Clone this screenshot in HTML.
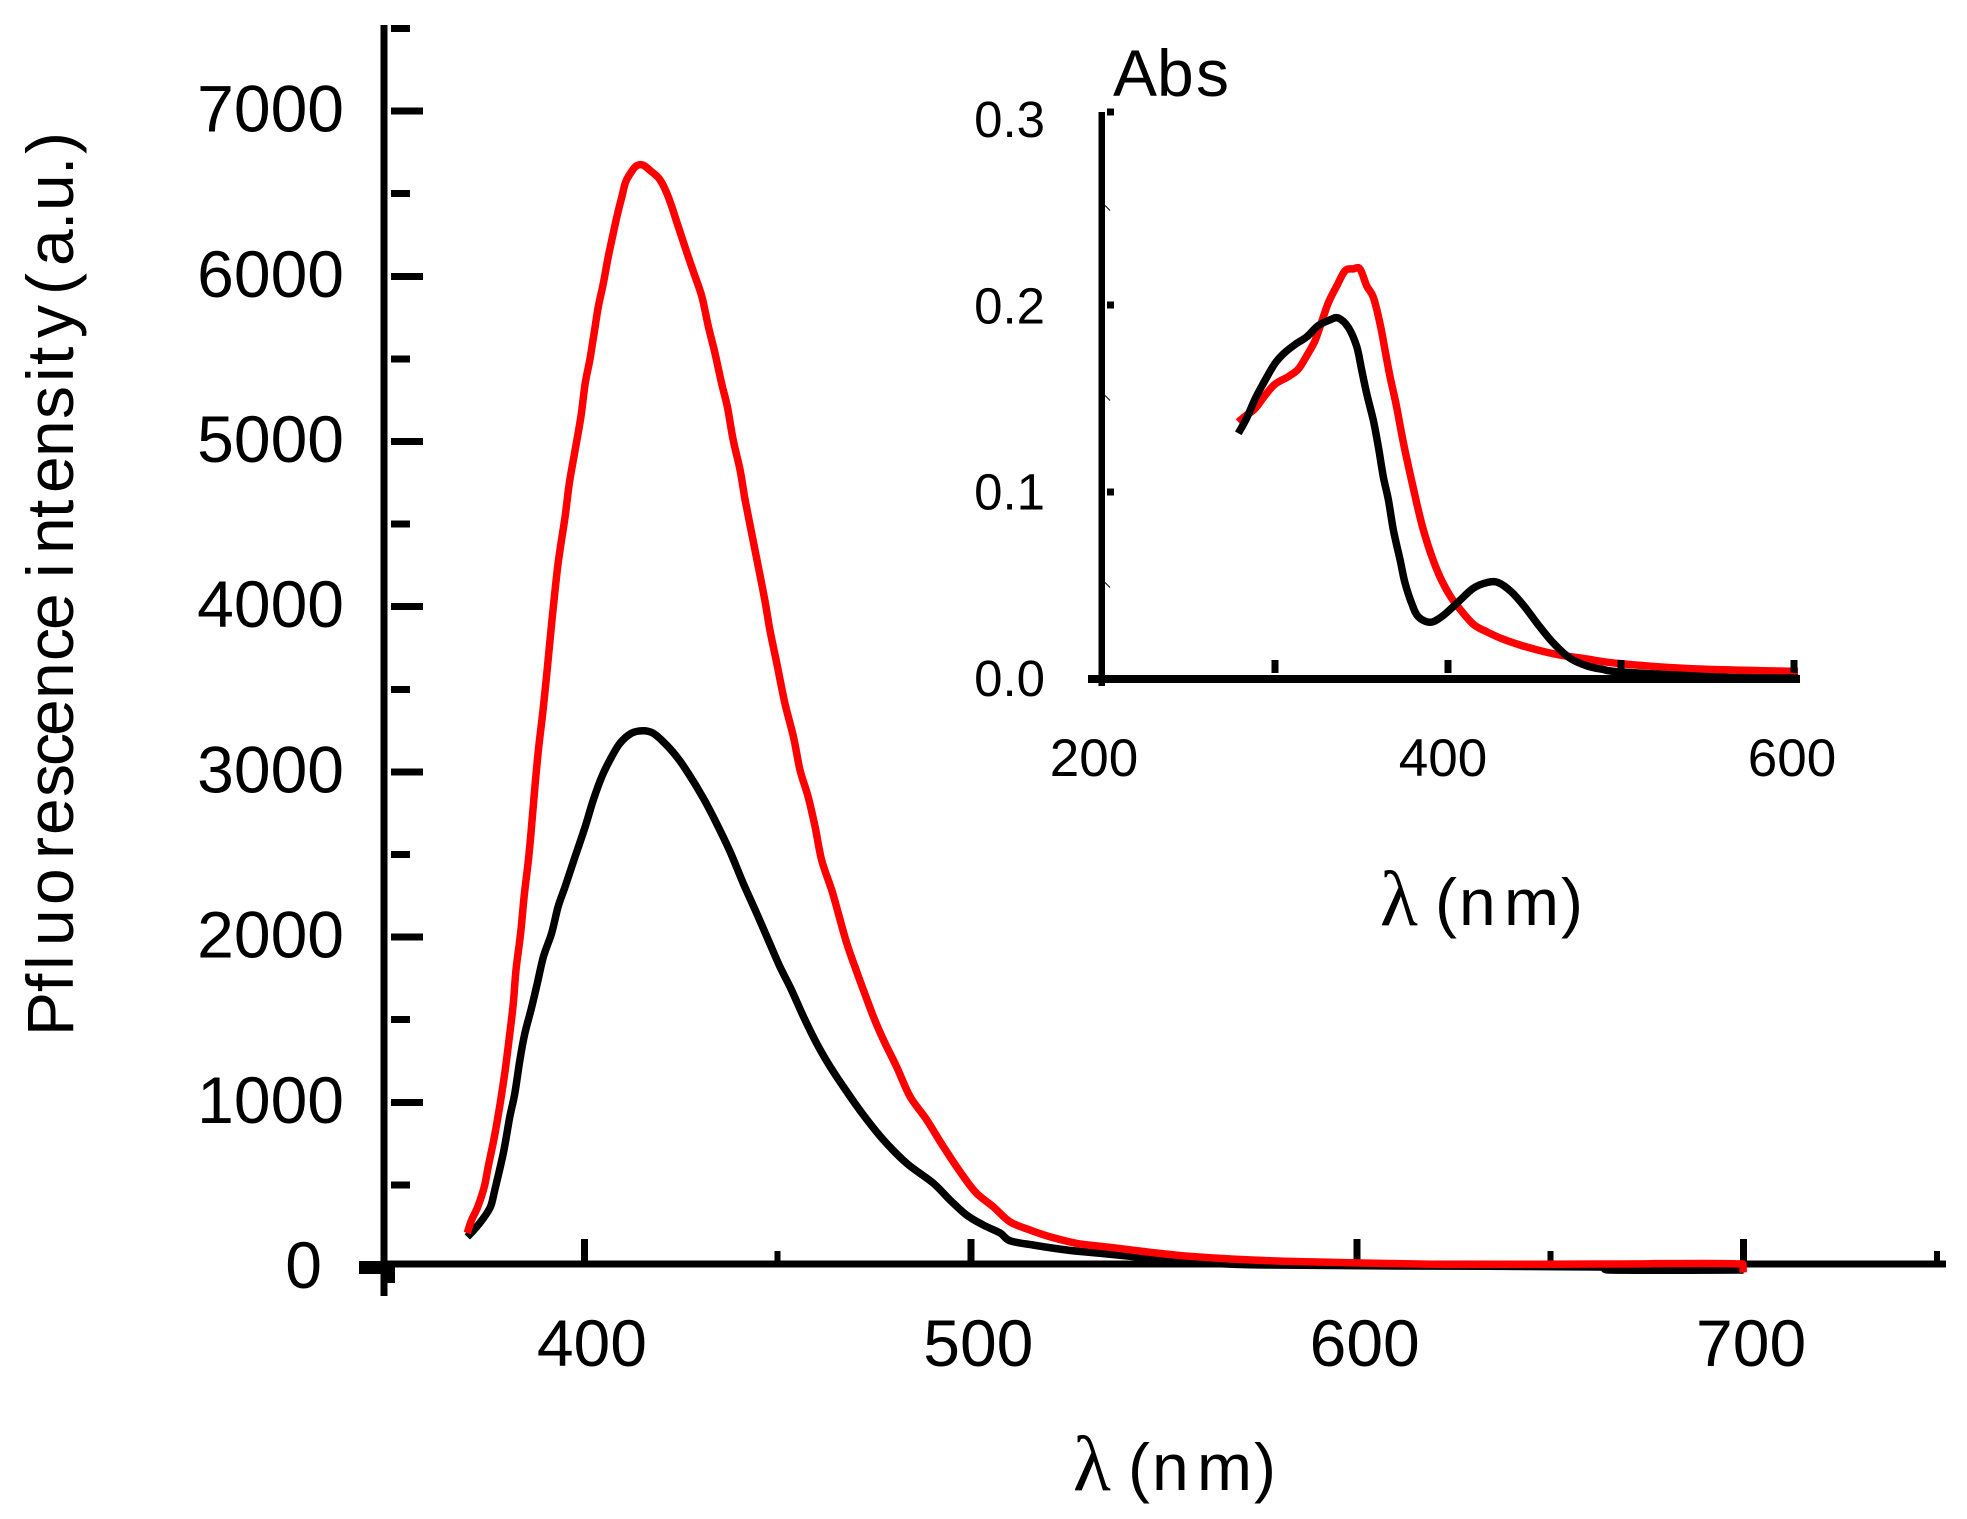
<!DOCTYPE html>
<html lang="en">
<head>
<meta charset="utf-8">
<title>Fluorescence and absorbance spectra</title>
<style>
html,body{margin:0;padding:0;background:#fff;}
svg{display:block;}
text{font-family:"Liberation Sans",sans-serif;fill:#000;font-variant-ligatures:none;}
.serif{font-family:"Liberation Serif",serif;font-size:78px;}
</style>
</head>
<body>
<svg id="chart" xmlns="http://www.w3.org/2000/svg" width="1967" height="1519" viewBox="0 0 1967 1519">
  <rect x="0" y="0" width="1967" height="1519" fill="#fff"/>
  <text transform="translate(73,1032) rotate(-90)" font-size="66" x="-4 40 62 86 127 173 197 235 266 296 333 371 402 440 454 478 514 539 575 613 650 667 694 725 737 766 802 821 857 878" y="0">Pfluorescence intensity (a.u.)</text>
  <text font-size="66" y="1490" x="1073 1100 1128 1152 1197 1254"><tspan class="serif">λ</tspan> (nm)</text>
  <text font-size="66" y="96" x="1113 1157 1196">Abs</text>
  <text font-size="66" y="925" x="1380 1410 1435 1459 1504 1561"><tspan class="serif">λ</tspan> (nm)</text>
  <g id="main-plot"></g>
  <g id="inset-plot"></g>
</svg>
<script>
/* Main fluorescence chart data */
const mainYMajorTicks = [0, 1000, 2000, 3000, 4000, 5000, 6000, 7000];
const mainYMinorTicks = [500, 1500, 2500, 3500, 4500, 5500, 6500, 7500];
const mainXMajorTicks = [400, 500, 600, 700];
const mainXMinorTicks = [450, 650, 750];

const redWavelengths = [369.7,370.8,372.4,374.1,375.1,376.7,378.2,379.5,380.6,381.6,382.3,383.5,384.4,385.5,386.4,387.2,388.1,389.2,390.2,391.7,393.2,395,396.1,397.6,399.1,400.2,401.4,402.5,403.6,404.9,406,407.1,408.4,409.7,410.7,412.2,413.5,415.2,417.4,419.6,421.7,423.9,426,428.2,430.4,432.1,433.8,435.5,437,438.5,440.3,441.6,443.3,445,446.7,448,449.8,451.9,454.1,455.8,457.9,459.7,461.4,464,465.7,467.9,470,472.2,474.8,477.4,480.8,484.3,488.6,492.9,498.1,501.5,505.8,510.1,515.3,520.5,527.4,536,546.4,555,567.9,580.9,598.1,624,662.8,699.8,699.9];
const redIntensity = [209,287,368,489,610,792,994,1195,1397,1599,1801,2023,2245,2467,2689,2910,3132,3355,3576,3939,4263,4545,4747,4948,5150,5352,5493,5655,5816,5957,6098,6220,6361,6482,6572,6633,6669,6673,6633,6583,6482,6330,6179,6028,5876,5695,5534,5352,5210,5009,4827,4646,4444,4242,4040,3859,3657,3415,3213,3011,2850,2668,2467,2285,2144,1962,1821,1680,1518,1377,1215,1034,893,731,550,449,368,277,227,186,146,122,92,71,51,38,29,19,21,21,-30];

const blackWavelengths = [369.7,371.4,373.5,375.7,376.8,379,380.7,382,383.3,384.6,386.4,387.8,389.4,391.5,393.2,395,397.6,400.2,402.3,404.5,406.6,409.2,412.2,415.2,417.8,420.4,423.9,426.9,430.8,434.2,437.7,441.1,444.2,447.6,450.6,453.6,456.7,460.1,463.6,467.9,472.2,477.4,483.4,490.3,494.6,498.9,503.2,507.6,510.1,516.1,524.8,533.4,546.4,559.3,576.6,611,662.8,665.2,700];
const blackIntensity = [185,227,287,368,469,691,913,1054,1256,1418,1579,1720,1881,2023,2184,2305,2487,2668,2830,2971,3072,3173,3234,3249,3234,3183,3092,2991,2840,2689,2517,2326,2164,1982,1821,1680,1518,1357,1215,1064,923,772,631,510,409,318,257,209,162,136,106,86,56,29,15,9,3,-15,-15];

/* Inset absorbance chart data */
const insetYMajorTicks = [0.0, 0.1, 0.2, 0.3];
const insetYLabels = ["0.0", "0.1", "0.2", "0.3"];
const insetYMinorTicks = [0.05, 0.15, 0.25];
const insetXTicks = [300, 400, 500, 600];
const insetXLabelValues = [200, 400, 600];

const insetRedWavelengths = [278.8,282.7,288.4,294.2,300,307.7,313.5,318.3,323.1,327,330.8,335.7,340.5,345.3,349.1,353,356.8,360.7,363.6,366.5,370.3,374.2,378,381.9,385.7,390.6,395.4,401.2,406.9,414.6,422.4,432,441.6,453.2,464.7,480.2,497.5,539.3,602.3];
const insetRedAbs = [0.136,0.139,0.143,0.150,0.156,0.160,0.164,0.171,0.179,0.189,0.199,0.208,0.216,0.217,0.217,0.208,0.202,0.188,0.174,0.160,0.144,0.125,0.109,0.093,0.079,0.065,0.054,0.044,0.037,0.029,0.025,0.021,0.018,0.015,0.0127,0.0106,0.0083,0.0055,0.004];

const insetBlackWavelengths = [278.8,283.6,288.4,294.2,300,304.8,311.6,318.3,325,331.8,336.6,342.4,347.2,350.1,353,356.8,359.7,362.6,365.5,368.4,372.3,375.1,379,382.8,389.6,396.4,405,414.6,422.4,429.1,436.8,444.5,452.2,460.9,470.5,480.2,489.8,497.5,557.2,602.3];
const insetBlackAbs = [0.130,0.138,0.148,0.158,0.167,0.172,0.177,0.181,0.187,0.190,0.191,0.186,0.176,0.1635,0.151,0.137,0.123,0.107,0.095,0.079,0.063,0.051,0.040,0.033,0.030,0.033,0.040,0.048,0.051,0.051,0.046,0.038,0.0286,0.019,0.011,0.007,0.005,0.0039,0.001,0.0005];

/* Axis functions */
function mainX(nm) { return 584.4 + 3.864 * (nm - 400); }
function mainY(v) { return 1267.5 - 0.1652 * v; }
function insetX(nm) { return 1102 + 1.73 * (nm - 200); }
function insetY(a) { return 679 - 1890 * a; }
function insetTickY(a) { return a <= 0.2 ? 679 - 1870 * a : 305 - 1930 * (a - 0.2); }
function insetYLabelBase(a) { return 696 - 1863 * a; }
function insetXLabelPos(nm) { return 1443 + 1.745 * (nm - 400); }

const NS = 'http://www.w3.org/2000/svg';
function makeRect(parent, x, y, w, h) {
  const r = document.createElementNS(NS, 'rect');
  r.setAttribute('x', x);
  r.setAttribute('y', y);
  r.setAttribute('width', w);
  r.setAttribute('height', h);
  r.setAttribute('fill', '#000');
  r.setAttribute('shape-rendering', 'crispEdges');
  parent.appendChild(r);
  return r;
}
function makeLabel(parent, str, x, y, size, anchor) {
  const t = document.createElementNS(NS, 'text');
  t.setAttribute('x', x);
  t.setAttribute('y', y);
  t.setAttribute('font-size', size);
  t.setAttribute('text-anchor', anchor);
  t.textContent = str;
  parent.appendChild(t);
  return t;
}
function clamp(v, a, b) { return Math.min(Math.max(a, b), Math.max(Math.min(a, b), v)); }
function makeCurve(parent, xs, ys, fx, fy, color, width) {
  const p = document.createElementNS(NS, 'path');
  const px = xs.map(fx);
  const py = ys.map(fy);
  let d = 'M' + px[0].toFixed(1) + ' ' + py[0].toFixed(1);
  for (let i = 0; i < px.length - 1; i++) {
    const a = Math.max(i - 1, 0);
    const b = Math.min(i + 2, px.length - 1);
    const c1x = clamp(px[i] + (px[i + 1] - px[a]) / 6, px[i], px[i + 1]);
    const c1y = py[i] + (py[i + 1] - py[a]) / 6;
    const c2x = clamp(px[i + 1] - (px[b] - px[i]) / 6, px[i], px[i + 1]);
    const c2y = py[i + 1] - (py[b] - py[i]) / 6;
    d += 'C' + c1x.toFixed(1) + ' ' + c1y.toFixed(1) + ' ' + c2x.toFixed(1) + ' ' + c2y.toFixed(1) + ' ' + px[i + 1].toFixed(1) + ' ' + py[i + 1].toFixed(1);
  }
  p.setAttribute('d', d);
  p.setAttribute('fill', 'none');
  p.setAttribute('stroke', color);
  p.setAttribute('stroke-width', width);
  p.setAttribute('stroke-linejoin', 'round');
  parent.appendChild(p);
  return p;
}

const mainG = document.getElementById('main-plot');
const insetG = document.getElementById('inset-plot');

/* Main axes */
const mainYAxis = makeRect(mainG, 380.5, 25, 7, 1271);


const mainXAxis = makeRect(mainG, 384, 1260.5, 1562, 7);


const originStubY = makeRect(mainG, 359, 1261, 25, 13);


const originStubX = makeRect(mainG, 384, 1264, 11, 19);



mainYMajorTicks.forEach(function (v) {
  if (v > 0) {
    const tick = makeRect(mainG, 391, mainY(v) - 3.5, 32, 7);
    
    
  }
  const label = makeLabel(mainG, String(v), v === 0 ? 322 : 344, mainY(v) + 20.5, 66, 'end');
  
  
});
mainYMinorTicks.forEach(function (v) {
  const tick = makeRect(mainG, 391, mainY(v) - 3.5, 19, 7);
  
  
});
mainXMajorTicks.forEach(function (nm) {
  const tick = makeRect(mainG, mainX(nm) - 3.5, 1239, 7, 24);
  
  
  const label = makeLabel(mainG, String(nm), mainX(nm) + 7.5, 1366, 66, 'middle');
  
  
});
mainXMinorTicks.forEach(function (nm) {
  const tick = makeRect(mainG, mainX(nm) - 3, 1251, 6, 14);
  
  
});

/* Main curves */
const blackCurve = makeCurve(mainG, blackWavelengths, blackIntensity, mainX, mainY, '#000', 7.5);


const redCurve = makeCurve(mainG, redWavelengths, redIntensity, mainX, mainY, '#f00', 7.5);



/* Inset axes */
const insetYAxis = makeRect(insetG, 1098.5, 112, 6.5, 574);


const insetXAxis = makeRect(insetG, 1088, 675, 712, 8);



insetYMajorTicks.forEach(function (a, i) {
  if (a > 0) {
    const tick = makeRect(insetG, 1107, insetTickY(a) - 3.5, 7, 7);
    
    
  }
  const label = makeLabel(insetG, insetYLabels[i], 1045, insetYLabelBase(a), 51, 'end');
  
  
});
insetYMinorTicks.forEach(function (a) {
  const tick = document.createElementNS(NS, 'line');
  tick.setAttribute('x1', 1105);
  tick.setAttribute('y1', insetTickY(a) - 3);
  tick.setAttribute('x2', 1110);
  tick.setAttribute('y2', insetTickY(a) + 2);
  tick.setAttribute('stroke', '#000');
  tick.setAttribute('stroke-width', 1);
  
  
  insetG.appendChild(tick);
});
insetXLabelValues.forEach(function (nm) {
  const label = makeLabel(insetG, String(nm), insetXLabelPos(nm), 776, 53, 'middle');
  
  
});

/* Inset curves: red beneath ticks, black on top */
const insetRedCurve = makeCurve(insetG, insetRedWavelengths, insetRedAbs, insetX, insetY, '#f00', 7.5);


insetXTicks.forEach(function (nm) {
  const tick = makeRect(insetG, insetX(nm) - 3.5, 660, 7, 13);
  
  
});
const insetBlackCurve = makeCurve(insetG, insetBlackWavelengths, insetBlackAbs, insetX, insetY, '#000', 7.5);


</script>
</body>
</html>
